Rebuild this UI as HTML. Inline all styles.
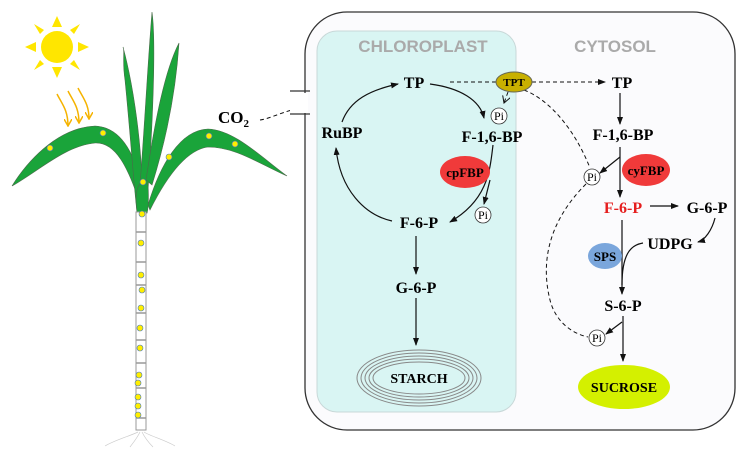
<!DOCTYPE html>
<html><head><meta charset="utf-8"><style>
html,body{margin:0;padding:0;background:#fff}
svg text{font-family:"Liberation Serif",serif;font-weight:bold}
</style></head><body>
<svg width="750" height="458" viewBox="0 0 750 458" xmlns="http://www.w3.org/2000/svg">
<defs>
<marker id="a" markerWidth="8" markerHeight="8" refX="7" refY="4" orient="auto" markerUnits="userSpaceOnUse"><path d="M0,1 L8,4 L0,7 Z" fill="#111"/></marker>
<marker id="o" markerWidth="8" markerHeight="8" refX="7" refY="4" orient="auto" markerUnits="userSpaceOnUse"><path d="M0,0 L7,4 L0,8" fill="none" stroke="#111"/></marker>
<marker id="y" markerWidth="8" markerHeight="8" refX="7" refY="4" orient="auto" markerUnits="userSpaceOnUse"><path d="M0,0 L7,4 L0,8" fill="none" stroke="#f5b300" stroke-width="1.5"/></marker>
</defs>
<g fill="#ffe600">
<circle cx="57" cy="47" r="16"/>
<polygon points="57,16 52,27 62,27"/><polygon points="57,78 52,67 62,67"/>
<polygon points="25,47 36,42 36,52"/><polygon points="89,47 78,42 78,52"/>
<polygon points="34,24 44,30 40,34"/><polygon points="80,24 70,30 74,34"/>
<polygon points="34,70 40,60 44,64"/><polygon points="80,70 74,60 70,64"/>
</g>
<g stroke="#f5b300" stroke-width="1.5" fill="none">
<path d="M57,94 C62,104 68,110 68,126" marker-end="url(#y)"/>
<path d="M68,91 C73,101 79,107 79,123" marker-end="url(#y)"/>
<path d="M78,88 C83,98 89,104 89,119" marker-end="url(#y)"/>
</g>
<g fill="#1aa43a" stroke="#4a6a4a" stroke-width="0.6">
<path d="M12,186 C25,165 55,128 95,126 C122,127 137,155 147,205 L142,210 C128,165 115,142 95,143 C65,146 40,170 12,186Z"/>
<path d="M148,205 C160,165 180,130 208,129 C235,130 262,158 287,176 C258,163 235,147 208,147 C185,150 165,180 150,210Z"/>
<path d="M137,213 C133,175 130,130 125,80 C122,60 125,50 123,47 C132,80 140,130 142,180 L147,213Z"/>
<path d="M140,185 C145,120 148,60 152,12 C156,40 153,120 148,190Z"/>
<path d="M146,180 C155,120 165,70 179,43 C176,90 166,140 152,185Z"/>
<path d="M136,200 C136,185 142,178 148,185 C149,200 148,210 147,213 L137,213Z"/>
</g>
<rect x="136" y="212" width="10" height="218" fill="#fff" stroke="#999"/>
<g stroke="#999" stroke-width="1.5">
<line x1="136" y1="232" x2="146" y2="232"/><line x1="136" y1="262" x2="146" y2="262"/>
<line x1="136" y1="285" x2="146" y2="285"/><line x1="136" y1="313" x2="146" y2="313"/>
<line x1="136" y1="340" x2="146" y2="340"/><line x1="136" y1="363" x2="146" y2="363"/>
<line x1="136" y1="388" x2="146" y2="388"/><line x1="136" y1="418" x2="146" y2="418"/>
</g>
<g stroke="#ccc" fill="none" stroke-width="0.7">
<path d="M138,432 C130,436 115,440 105,446"/><path d="M144,432 C150,436 165,440 175,446"/>
<path d="M140,432 C136,440 132,444 130,447"/><path d="M142,432 C146,440 150,444 153,447"/>
</g>
<g fill="#ffee00" stroke="#4a7ac0" stroke-width="0.6">
<circle cx="50" cy="148" r="3"/><circle cx="103" cy="133" r="3"/><circle cx="169" cy="157" r="3"/><circle cx="209" cy="136" r="3"/><circle cx="235" cy="144" r="3"/><circle cx="143" cy="182" r="3"/>
<circle cx="142" cy="214" r="3"/><circle cx="141" cy="243" r="3"/><circle cx="141" cy="275" r="3"/><circle cx="142" cy="290" r="3"/><circle cx="141" cy="308" r="3"/><circle cx="140" cy="328" r="3"/><circle cx="140" cy="348" r="3"/><circle cx="139" cy="375" r="3"/><circle cx="138" cy="383" r="3"/><circle cx="138" cy="397" r="3"/><circle cx="138" cy="406" r="3"/><circle cx="138" cy="415" r="3"/>
</g>
<text x="218" y="123" font-size="17">CO<tspan font-size="11" dy="4">2</tspan></text>
<path d="M260,120 C275,118 290,105 355,98" stroke="#111" fill="none" stroke-dasharray="4,3" marker-end="url(#o)"/>
<rect x="305" y="12" width="430" height="418" rx="42" fill="#fbfbfd" stroke="#333" stroke-width="1.3"/>
<rect x="290" y="93" width="18" height="20" fill="#fff"/>
<line x1="290" y1="91" x2="310" y2="91" stroke="#333" stroke-width="1.3"/>
<line x1="290" y1="114" x2="310" y2="114" stroke="#333" stroke-width="1.3"/>
<rect x="317" y="31" width="199" height="381" rx="20" fill="#d9f5f3" stroke="#c8d8d8"/>
<text x="423" y="52" font-size="17" fill="#aaa" text-anchor="middle" style="font-family:'Liberation Sans',sans-serif">CHLOROPLAST</text>
<text x="615" y="52" font-size="17" fill="#aaa" text-anchor="middle" style="font-family:'Liberation Sans',sans-serif">CYTOSOL</text>
<g stroke="#111" fill="none" stroke-width="1.2">
<path d="M342,122 C350,100 370,90 398,84" marker-end="url(#a)"/>
<path d="M430,84 C460,88 480,100 484,118" marker-end="url(#a)"/>
<path d="M493,145 C490,170 488,200 450,222" marker-end="url(#a)"/>
<path d="M490,180 L484,204" marker-end="url(#a)"/>
<path d="M392,221 C365,215 340,190 336,148" marker-end="url(#a)"/>
<line x1="416" y1="236" x2="416" y2="274" marker-end="url(#a)"/>
<line x1="416" y1="298" x2="416" y2="345" marker-end="url(#a)"/>
<line x1="620" y1="93" x2="620" y2="124" marker-end="url(#a)"/>
<line x1="620" y1="147" x2="620" y2="197" marker-end="url(#a)"/>
<path d="M620,157 L600,173" marker-end="url(#a)"/>
<line x1="650" y1="206" x2="678" y2="206" marker-end="url(#a)"/>
<path d="M715,218 C712,230 705,240 698,242" marker-end="url(#a)"/>
<line x1="622" y1="220" x2="622" y2="294" marker-end="url(#a)"/>
<path d="M643,243 C630,245 622,255 622,285"/>
<line x1="623" y1="316" x2="623" y2="361" marker-end="url(#a)"/>
<path d="M622,322 L606,334" marker-end="url(#a)"/>
</g>
<g stroke="#111" fill="none" stroke-width="1" stroke-dasharray="4,3">
<line x1="450" y1="82" x2="496" y2="82"/>
<line x1="532" y1="82" x2="605" y2="82" marker-end="url(#a)"/>
<path d="M508,92 L504,103" marker-end="url(#o)"/>
<path d="M524,90 C550,100 575,130 590,168"/>
<path d="M586,184 C550,220 540,260 550,300 C555,320 570,333 588,337"/>
</g>
<g font-size="16" text-anchor="middle">
<text x="414" y="88">TP</text>
<text x="342" y="138">RuBP</text>
<text x="492" y="142">F-1,6-BP</text>
<text x="419" y="228">F-6-P</text>
<text x="416" y="293">G-6-P</text>
<text x="622" y="88">TP</text>
<text x="623" y="140">F-1,6-BP</text>
<text x="623" y="213" fill="#e51e1e">F-6-P</text>
<text x="707" y="213">G-6-P</text>
<text x="670" y="249">UDPG</text>
<text x="623" y="311">S-6-P</text>
</g>
<g fill="#fff" stroke="#333" stroke-width="0.8">
<circle cx="499" cy="116" r="8"/><circle cx="483" cy="215" r="8"/><circle cx="592" cy="177" r="8"/><circle cx="597" cy="338" r="8"/>
</g>
<g font-size="12" text-anchor="middle">
<text x="499" y="120" style="font-weight:normal">Pi</text><text x="483" y="219" style="font-weight:normal">Pi</text><text x="592" y="181" style="font-weight:normal">Pi</text><text x="597" y="342" style="font-weight:normal">Pi</text>
</g>
<ellipse cx="514" cy="82" rx="18" ry="10" fill="#c8b000" stroke="#665"/>
<text x="514" y="86" font-size="11" text-anchor="middle">TPT</text>
<ellipse cx="465" cy="172" rx="25" ry="16" fill="#f03a3a"/>
<text x="465" y="177" font-size="13" text-anchor="middle">cpFBP</text>
<ellipse cx="646" cy="170" rx="24" ry="16" fill="#f03a3a"/>
<text x="646" y="175" font-size="13" text-anchor="middle">cyFBP</text>
<ellipse cx="605" cy="256" rx="17" ry="13" fill="#7aa6dc"/>
<text x="605" y="261" font-size="13" text-anchor="middle">SPS</text>
<ellipse cx="624" cy="387" rx="46" ry="22" fill="#d4f000"/>
<text x="624" y="392" font-size="14" text-anchor="middle">SUCROSE</text>
<g fill="none" stroke="#888" stroke-width="1">
<ellipse cx="419" cy="378" rx="62" ry="28"/><ellipse cx="419" cy="378" rx="58" ry="25"/><ellipse cx="419" cy="378" rx="54" ry="22"/><ellipse cx="419" cy="378" rx="50" ry="19"/><ellipse cx="419" cy="378" rx="46" ry="16"/>
</g>
<text x="419" y="383" font-size="14" text-anchor="middle">STARCH</text>
</svg>
</body></html>
